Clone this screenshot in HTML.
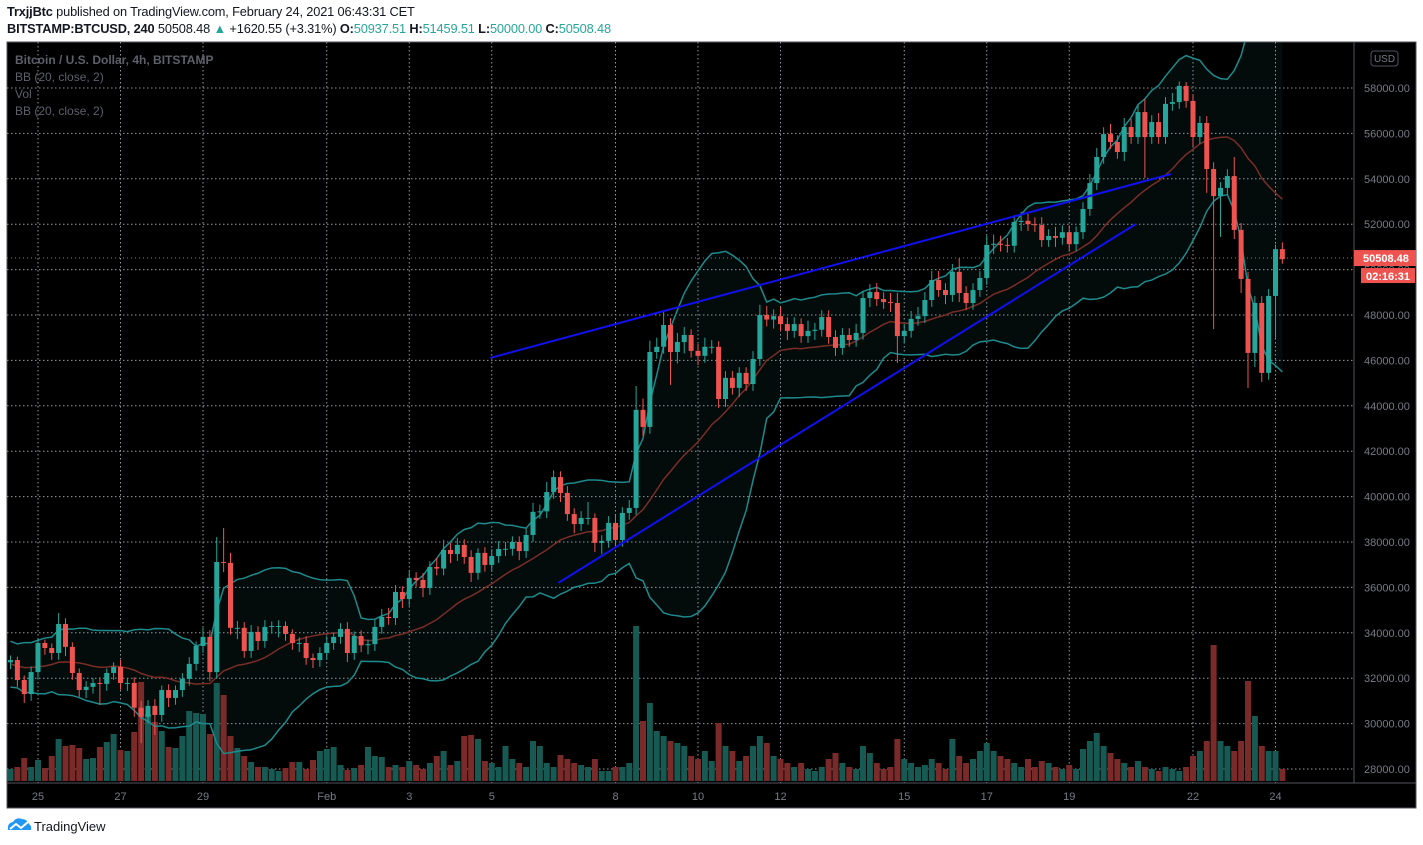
<!DOCTYPE html>
<html><head><meta charset="utf-8">
<style>
body{margin:0;width:1423px;height:845px;background:#fff;overflow:hidden;font-family:"Liberation Sans",sans-serif;position:relative}
.hdr{position:absolute;left:7px;font-size:12.8px;color:#131722;white-space:nowrap;letter-spacing:-0.15px}
.g{color:#26a69a}
#chart{position:absolute;left:0;top:0}
.foot{position:absolute;left:34px;top:819px;font-size:13px;color:#131722}
</style></head><body>
<div class="hdr" style="top:4px"><b>TrxjjBtc</b> published on TradingView.com, February 24, 2021 06:43:31 CET</div>
<div class="hdr" style="top:21px"><b>BITSTAMP:BTCUSD, 240</b> 50508.48 <span class="g">▲</span> +1620.55 (+3.31%) <b>O:</b><span class="g">50937.51</span> <b>H:</b><span class="g">51459.51</span> <b>L:</b><span class="g">50000.00</span> <b>C:</b><span class="g">50508.48</span></div>
<svg id="chart" width="1423" height="845"></svg>
<svg style="position:absolute;left:7px;top:817px" width="25" height="17"><path d="M1 13 Q0 6 6 5 Q9 0 15 2 Q20 2 22 7 Q25 9 24 13 Z" fill="#2196f3"/><path d="M3 12 L9 7 L14 11 L21 5" stroke="#fff" stroke-width="2" fill="none"/></svg>
<div class="foot">TradingView</div>
<script>
const warmupCloses=[33500,32800,32200,33000,32500,31800,32400,33100,32600,32000,32900,33400,32700,32100,31600,32300,33000,32500,33200];
const closes=[32800,31920,31300,32270,33550,33330,33110,34390,33380,32230,31480,31620,31790,31750,32230,32500,31790,31790,30700,30300,30780,30380,31480,31130,31480,31970,32630,33420,33820,32270,37120,37080,34220,34220,33200,34040,33640,34260,34300,34300,33950,33550,33550,32890,32800,33110,33550,33820,34170,33110,33860,33450,33500,34260,34700,34650,35800,35490,36420,36330,35970,36900,36830,37650,37470,37870,37340,36640,37520,36990,37380,37690,37700,38000,37600,38310,39330,39350,40200,40860,40160,39230,38790,39060,39060,37960,38050,38840,38090,39280,39500,43820,43070,46370,46600,47560,46370,46810,47120,46420,46200,46600,46600,44300,45230,44790,45450,44960,46060,48000,47800,47950,47600,47300,47600,47070,47300,47350,47910,47030,46550,47120,46900,47210,48750,49010,48700,48570,48530,47070,47300,47830,47950,48660,49540,49100,48880,49900,48970,48530,49100,49630,51090,51140,51090,51050,52100,52150,52000,51960,51300,51480,51400,51650,51120,51650,52670,53810,54960,55970,55620,55180,56280,55840,56940,55840,56500,55840,57300,57380,58090,57430,55840,56460,54430,53240,53600,54120,51750,49590,46330,48530,45450,48840,50900,50460];
const firstOpen=32700;
const upWick=[200,150,200,250,200,150,200,480,250,200,200,250,200,250,200,200,300,200,250,300,250,300,200,250,200,250,300,200,400,300,1100,1500,440,300,250,300,250,300,200,250,200,200,250,300,200,250,300,200,250,300,200,250,200,300,350,400,300,250,300,250,300,250,400,450,300,300,250,300,200,250,300,350,300,250,250,300,400,300,450,300,250,300,250,300,700,200,250,300,350,250,350,1050,500,500,400,570,300,400,350,250,300,400,300,250,300,300,250,250,350,450,400,300,400,300,300,250,450,300,300,300,300,300,300,400,300,350,400,300,400,450,300,350,400,350,400,400,300,350,610,300,300,300,400,400,350,300,300,400,300,300,350,300,400,300,300,250,300,400,400,300,450,300,400,350,300,580,300,400,300,400,200,170,300,300,300,300,250,300,840,300,300,300,300,300,200,300,540];
const dnWick=[300,300,390,300,250,300,300,300,400,300,300,350,300,930,300,300,300,350,400,1150,300,880,300,400,300,300,300,300,300,400,300,400,300,500,300,300,400,300,300,500,300,300,400,300,350,300,300,300,300,400,300,300,400,300,300,300,300,400,300,300,400,300,300,300,400,300,300,400,300,300,300,300,300,300,400,300,300,300,300,300,400,300,400,300,300,400,500,300,300,300,300,300,400,300,300,300,1450,500,500,300,400,300,300,400,350,300,400,300,300,300,300,400,300,400,300,300,300,400,300,300,350,300,300,300,300,400,300,300,400,1180,300,300,300,300,300,300,400,300,400,300,300,300,300,400,300,300,300,400,300,300,300,300,400,300,300,300,300,300,300,300,300,300,400,300,300,1800,300,300,300,300,300,300,400,300,1050,5860,1800,300,400,620,1540,620,400,300,1850,200];
const volumes=[12,14,23,14,21,13,25,42,35,36,33,22,23,34,39,47,31,30,49,99,67,59,50,34,33,45,70,68,67,47,98,86,45,33,25,19,14,14,12,10,13,19,19,12,21,30,32,34,16,11,13,16,34,25,24,14,16,14,20,16,12,18,25,30,16,20,45,46,42,20,18,14,35,22,18,14,40,35,18,14,26,22,18,16,14,22,10,10,14,14,18,155,60,78,50,45,40,38,35,25,22,30,20,58,35,30,20,25,35,45,38,25,22,18,14,18,12,10,14,22,28,18,14,12,35,28,18,12,14,42,22,18,14,16,22,18,12,42,25,18,22,30,38,30,25,22,18,14,22,14,20,18,14,12,16,12,32,40,48,35,28,22,18,14,20,14,12,10,14,12,10,14,25,30,40,136,40,35,30,40,100,65,35,30,30,12];
const priceTicks=[58000,56000,54000,52000,50000,48000,46000,44000,42000,40000,38000,36000,34000,32000,30000,28000];
const dayLabels=["25","27","29","Feb","3","5","8","10","12","15","17","19","22","24"];
const dayOffsets=[0,2,4,7,9,11,14,16,18,21,23,25,28,30];
const trend1=[[69.8,46110],[168.8,54210]];
const trend2=[[79.7,36200],[163.7,52010]];
const lastPrice=50508.48;

const NS="http://www.w3.org/2000/svg";
const svg=document.getElementById('chart');
const L=7,T=42,R=1416,B=808,AX=1354,AY=783,VB=781;
function yP(p){return 88+(58000-p)*0.0227;}
function xI(i){return 38+(i-4)*6.875;}
function xD(d){return 38+d*41.25;}
function mk(tag,attrs,parent){const e=document.createElementNS(NS,tag);for(const k in attrs)e.setAttribute(k,attrs[k]);(parent||svg).appendChild(e);return e;}

const defs=mk('defs',{});
const cp=mk('clipPath',{id:'pane'},defs);
mk('rect',{x:L,y:T,width:AX-L,height:AY-T},cp);

const bg=mk('rect',{x:L,y:T,width:R-L,height:B-T,fill:'#000',stroke:'#50535e','stroke-width':1});


const pane=mk('g',{'clip-path':'url(#pane)'});


priceTicks.forEach(p=>{
  const g=mk('line',{x1:L,x2:AX,y1:yP(p),y2:yP(p),stroke:'#9598a1','stroke-width':1,'stroke-dasharray':'1.5 2.5'},pane);
  
  
});
dayOffsets.forEach(d=>{
  const g=mk('line',{x1:xD(d),x2:xD(d),y1:T,y2:AY,stroke:'#9598a1','stroke-width':1,'stroke-dasharray':'1.5 2.5'},pane);
  
  
});
const opens=closes.map((c,i)=>i===0?firstOpen:closes[i-1]);
const all=warmupCloses.concat(closes),W=warmupCloses.length;
const up=[],mid=[],lo=[];
closes.forEach((c,i)=>{
  const j=i+W;const s=all.slice(Math.max(0,j-19),j+1);const m=s.reduce((a,b)=>a+b,0)/s.length;
  const sd=Math.sqrt(s.reduce((a,b)=>a+(b-m)*(b-m),0)/s.length);
  mid.push(m);up.push(m+2*sd);lo.push(m-2*sd);
});
const pts=a=>a.map((v,i)=>xI(i)+','+yP(v)).join(' ');
const fill=mk('polygon',{points:pts(up)+' '+lo.map((v,i)=>[xI(i),yP(v)]).reverse().map(p=>p.join(',')).join(' '),fill:'rgba(38,166,154,0.07)'},pane);


volumes.forEach((v,i)=>{
  const r=mk('rect',{x:xI(i)-3,y:VB-v,width:6,height:v,fill:closes[i]>=opens[i]?'#175a53':'#7a2a29'},pane);
  
  
});
[['bb-upper',up,'#1e8a8c'],['bb-lower',lo,'#1e8a8c'],['bb-basis',mid,'#7a2d27']].forEach(([n,a,c])=>{
  const pl=mk('polyline',{points:pts(a),fill:'none',stroke:c,'stroke-width':1.5},pane);
  
  
});
closes.forEach((c,i)=>{
  const o=opens[i],col=c>=o?'#26a69a':'#ef5350',x=xI(i);
  const hi=Math.max(o,c)+upWick[i],lw=Math.min(o,c)-dnWick[i];
  const w=mk('line',{x1:x,x2:x,y1:yP(hi),y2:yP(lw),stroke:col,'stroke-width':1},pane);
  
  
  const top=yP(Math.max(o,c)),h=Math.max(1,yP(Math.min(o,c))-top);
  const b=mk('rect',{x:x-2.5,y:top,width:5,height:h,fill:col},pane);
  
  
});
[trend1,trend2].forEach((t,k)=>{
  const l=mk('line',{x1:xI(t[0][0]),y1:yP(t[0][1]),x2:xI(t[1][0]),y2:yP(t[1][1]),stroke:'#1010f0','stroke-width':2},pane);
  
  
});
const lp=mk('line',{x1:L,x2:AX,y1:yP(lastPrice),y2:yP(lastPrice),stroke:'#ef5350','stroke-width':1,'stroke-dasharray':'1 3'},pane);


const ay=mk('line',{x1:AX,x2:AX,y1:T,y2:AY,stroke:'#50535e'});


const ax=mk('line',{x1:L,x2:R,y1:AY,y2:AY,stroke:'#50535e'});


priceTicks.forEach(p=>{
  const t=mk('text',{x:1364,y:yP(p)+4,fill:'#787b86','font-size':11});
  t.textContent=p.toFixed(2);
  
  
});
dayLabels.forEach((s,k)=>{
  const t=mk('text',{x:xD(dayOffsets[k]),y:800,fill:'#787b86','font-size':11,'text-anchor':'middle'});
  t.textContent=s;
  
  
});
const ub=mk('rect',{x:1371,y:51,width:27,height:15,rx:3,fill:'none',stroke:'#50535e'});


const ut=mk('text',{x:1384.5,y:62,fill:'#787b86','font-size':10,'text-anchor':'middle'});ut.textContent='USD';


const pb=mk('rect',{x:1354,y:yP(lastPrice)-8,width:62,height:16,fill:'#ef5350'});


const pt=mk('text',{x:1363,y:yP(lastPrice)+4,fill:'#fff','font-size':11,'font-weight':'bold'});pt.textContent='50508.48';


const cb=mk('rect',{x:1361,y:yP(lastPrice)+10,width:54,height:15,fill:'#ef5350'});


const ct=mk('text',{x:1366,y:yP(lastPrice)+22,fill:'#fff','font-size':11,'font-weight':'bold'});ct.textContent='02:16:31';


['Bitcoin / U.S. Dollar, 4h, BITSTAMP','BB (20, close, 2)','Vol','BB (20, close, 2)'].forEach((s,k)=>{
  const t=mk('text',{x:15,y:64+k*17,fill:'#5d606b','font-size':12,'font-weight':k===0?'bold':'normal'});
  t.textContent=s;
  
  
});
</script>
</body></html>
